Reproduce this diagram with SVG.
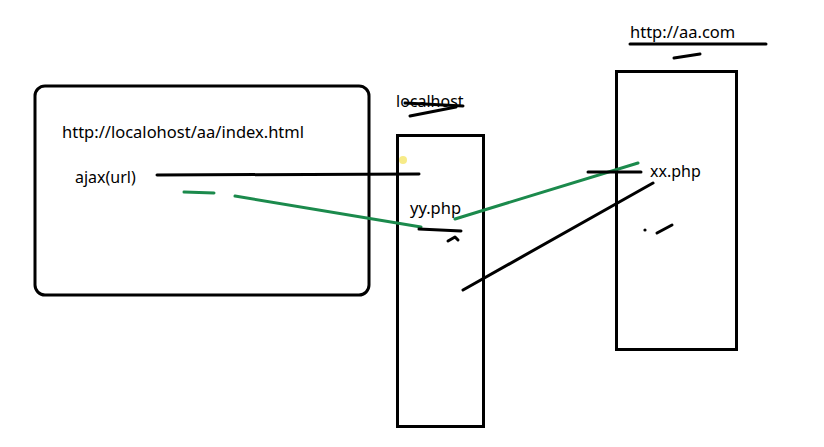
<svg xmlns="http://www.w3.org/2000/svg" width="824" height="447" viewBox="0 0 824 447">
<style>
.box{fill:none;stroke:#000;stroke-width:3}
.k{fill:none;stroke:#000;stroke-width:3;stroke-linecap:round;stroke-linejoin:round}
.g{fill:none;stroke:#1b8a4c;stroke-width:3;stroke-linecap:round}
text{font-family:"Noto Sans","Open Sans","Liberation Sans",sans-serif;fill:#000}
</style>
<rect width="824" height="447" fill="#fff"/>
<g id="page">
<rect class="box" x="35" y="86" width="334" height="209" rx="10"/>
<text x="62" y="138" font-size="16.5">http://localohost/aa/index.html</text>
<text x="75" y="183" font-size="16">ajax(url)</text>
</g>
<g id="yy">
<rect class="box" x="397.5" y="135.5" width="86" height="291"/>
<text x="396" y="107" font-size="16">localhost</text>
<text x="410" y="214" font-size="16.5">yy.php</text>
</g>
<g id="xx">
<rect class="box" x="616.5" y="71.5" width="120" height="278"/>
<text x="630" y="38" font-size="16.5">http://aa.com</text>
<text x="650" y="177" font-size="16">xx.php</text>
</g>
<g id="connectors">
<line class="k" x1="157" y1="175" x2="419" y2="174"/>
<path class="g" d="M184 192 L214 193"/>
<path class="g" d="M235 196 L421 227"/>
<path class="k" d="M405 103 L463 106"/>
<path class="k" d="M410 116 L456 107"/>
<path class="k" d="M419 229 L461 231"/>
<path class="k" d="M448 241 L455 237 L458 240"/>
<path class="g" d="M455 219 L638 163"/>
<path class="k" d="M463 290 L653 183"/>
<path class="k" d="M588 172 L641 172"/>
<circle cx="645" cy="230" r="1.6" fill="#000"/>
<path class="k" d="M657 233 L672 225"/>
<path class="k" d="M630 44 L766 44"/>
<path class="k" d="M674 58 L700 54"/>
<circle cx="403" cy="160" r="4" fill="#f5e66a" opacity="0.8"/>
</g>
</svg>
